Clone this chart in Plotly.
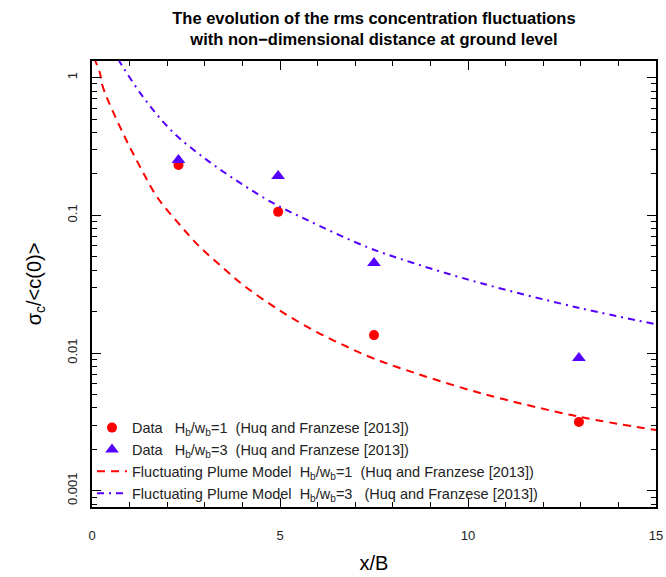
import plotly.graph_objects as go

# Measured data (x/B, sigma_c/<c(0)>)
data_x = [2.3, 4.95, 7.5, 12.95]
data_hw1 = [0.232, 0.106, 0.0135, 0.00316]
data_hw3 = [0.252, 0.193, 0.0451, 0.0092]

# Fluctuating plume model curves
model1_x = [0.05, 0.21, 0.29, 0.82, 1.28, 1.73, 2.34, 2.87, 3.46, 4.02, 4.65, 5.27,
            5.98, 6.68, 7.39, 8.11, 10.32, 12.98, 15.0]
model1_y = [1.40, 1.08, 0.855, 0.397, 0.225, 0.136, 0.0851, 0.0589, 0.0422, 0.0312,
            0.0235, 0.0183, 0.0142, 0.01145, 0.00936, 0.00792, 0.00513, 0.00344, 0.00276]

model3_x = [0.70, 0.74, 1.36, 2.15, 3.06, 3.94, 4.81, 5.72, 7.31, 8.5, 10.32, 12.98, 15.0]
model3_y = [1.36, 1.30, 0.724, 0.403, 0.252, 0.172, 0.123, 0.0926, 0.0589, 0.0455,
            0.0323, 0.0212, 0.0162]

x_ticks = [0, 5, 10, 15]
y_ticks = [0.001, 0.01, 0.1, 1]
y_ticklabels = ["0.001", "0.01", "0.1", "1"]
y_minor = [m * d for d in (0.0001, 0.001, 0.01, 0.1, 1) for m in range(2, 10)]

RED = "#ff0000"
BLUE = "#5500ff"
SP = "\u00a0"
FONT = "Liberation Sans, Arial, sans-serif"

fig = go.Figure()
fig.add_trace(go.Scatter(
    x=data_x, y=data_hw1, mode="markers",
    marker=dict(symbol="circle", size=10, color=RED),
    name=f"Data{SP*3}H<sub>b</sub>/w<sub>b</sub>=1{SP*2}(Huq and Franzese [2013])"))
fig.add_trace(go.Scatter(
    x=data_x, y=data_hw3, mode="markers",
    marker=dict(symbol="triangle-up", size=12, color=BLUE),
    name=f"Data{SP*3}H<sub>b</sub>/w<sub>b</sub>=3{SP*2}(Huq and Franzese [2013])"))
fig.add_trace(go.Scatter(
    x=model1_x, y=model1_y, mode="lines", line_shape="spline",
    line=dict(color=RED, width=2, dash="8px,6px"),
    name=f"Fluctuating Plume Model{SP*2}H<sub>b</sub>/w<sub>b</sub>=1{SP*2}(Huq and Franzese [2013])"))
fig.add_trace(go.Scatter(
    x=model3_x, y=model3_y, mode="lines", line_shape="spline",
    line=dict(color=BLUE, width=2, dash="7px,5px,2px,5px"),
    name=f"Fluctuating Plume Model{SP*2}H<sub>b</sub>/w<sub>b</sub>=3{SP*3}(Huq and Franzese [2013])"))

axis_common = dict(
    showline=True, linecolor="black", linewidth=1.5, mirror="ticks",
    ticks="inside", ticklen=9, tickwidth=1, tickcolor="black",
    showgrid=False, zeroline=False, automargin=False,
    tickfont=dict(family=FONT, size=13, color="#222"),
)

fig.update_layout(
    width=666, height=577,
    margin=dict(l=92, r=10, t=61, b=70),
    paper_bgcolor="white", plot_bgcolor="white",
    font=dict(family=FONT, color="black"),
    title=dict(
        text="<b>The evolution of the rms concentration fluctuations<br>with non\u2212dimensional distance at ground level</b>",
        x=0.5615, xanchor="center", y=0.959, yanchor="top", yref="container",
        font=dict(size=16.5, color="black")),
    xaxis=dict(range=[0, 15], tickvals=x_ticks, ticktext=[str(v) for v in x_ticks],
               minor=dict(dtick=1, ticks="inside", ticklen=5, tickcolor="black"),
               ticklabelstandoff=16,
               title=dict(text="x/B", font=dict(size=20), standoff=14),
               **axis_common),
    yaxis=dict(type="log", range=[-3.118, 0.121], tickvals=y_ticks, ticktext=y_ticklabels,
               tickangle=-90,
               minor=dict(tickvals=y_minor, ticks="inside", ticklen=5, tickcolor="black"),
               ticklabelstandoff=8,
               title=dict(text="σ<sub>c</sub>/&lt;c(0)&gt;", font=dict(size=20), standoff=18),
               **axis_common),
    legend=dict(x=0.0, y=-0.006, xanchor="left", yanchor="bottom",
                bgcolor="rgba(0,0,0,0)", borderwidth=0,
                font=dict(size=14.5, color="#222"), tracegroupgap=0, itemwidth=30),
    showlegend=True,
)

fig.write_html("out.html")
